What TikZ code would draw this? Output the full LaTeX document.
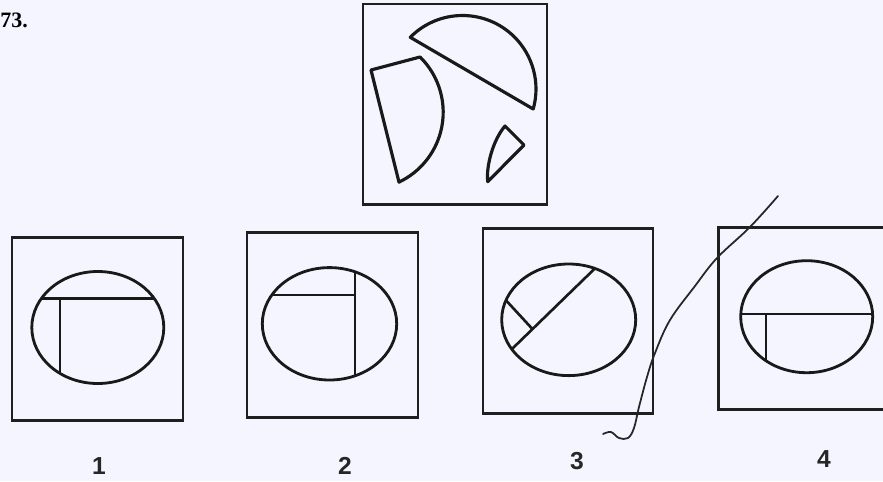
\documentclass[tikz,border=0pt]{standalone}
\usepackage{fontspec}
\setmainfont{Liberation Serif}
\newfontfamily\labfont{Liberation Sans}
\usetikzlibrary{calc}
\begin{document}
\begin{tikzpicture}[x=0.02cm,y=-0.02cm,
  frame/.style={draw=black!88,line width=1.7pt},
  piece/.style={draw=black!90,line width=1.8pt,line join=round},
  oval/.style={draw=black!90,line width=1.6pt},
  cut/.style={draw=black!90,line width=1.5pt},
  optlabel/.style={font=\labfont\bfseries\fontsize{14}{16}\selectfont,text=black!85,inner sep=0pt},
  pen/.style={draw=black!85,line width=1pt,line cap=round}]
\useasboundingbox (0,0) rectangle (883,481);
\clip (0,0) rectangle (883,481);
\fill[white!96!blue] (0,0) rectangle (883,481);

% question number
\node[font=\bfseries\fontsize{12.5}{14}\selectfont,anchor=west,inner sep=0pt] (qnum) at (0,20) {73.};

% ---- problem figure ----
\node[frame,minimum width=184*0.02cm,minimum height=200*0.02cm,inner sep=0pt] (top) at (455,104) {};
\coordinate (cbig) at (462.5,89);
\draw[piece] (cbig) ++(-135.3:73.5) arc[start angle=-135.3,end angle=15.8,radius=73.5] -- cycle;
\coordinate (pa) at (371,70);
\coordinate (cd) at (365.8,112.2);
\draw[piece] (cd) ++(-45.5:77.4) arc[start angle=-45.5,end angle=64.6,radius=77.4] -- (pa) -- cycle;
\coordinate (sa) at (505,126);
\coordinate (sb) at (524,145);
\coordinate (sc) at (487.7,181.7);
\draw[piece] (sa) -- (sb) -- (sc) .. controls (486,166) and (493,140) .. (sa) -- cycle;

% ---- option 1 ----
\node[frame,minimum width=171*0.02cm,minimum height=183*0.02cm,inner sep=0pt] (b1) at (97.5,328.5) {};
\coordinate (e1) at (97.8,327.5);
\begin{scope}
  \clip (e1) ellipse[x radius=66,y radius=56];
  \draw[cut] (0,298.3) -- (200,298.3);
  \draw[cut] (60,298.3) -- (60,400);
\end{scope}
\draw[oval] (e1) ellipse[x radius=66,y radius=56];
\node[optlabel] (l1) at (99,466) {1};

% ---- option 2 ----
\node[frame,minimum width=171*0.02cm,minimum height=185*0.02cm,inner sep=0pt] (b2) at (332.5,324.5) {};
\coordinate (e2) at (329.5,323.8);
\begin{scope}
  \clip (e2) ellipse[x radius=67.2,y radius=56.2];
  \draw[cut] (230,295) -- (355,295);
  \draw[cut] (355,240) -- (355,400);
\end{scope}
\draw[oval] (e2) ellipse[x radius=67.2,y radius=56.2];
\node[optlabel] (l2) at (345,466) {2};

% ---- option 3 ----
\node[frame,minimum width=170*0.02cm,minimum height=185*0.02cm,inner sep=0pt] (b3) at (568,320.5) {};
\coordinate (e3) at (568.7,319.8);
\begin{scope}
  \clip (e3) ellipse[x radius=67,y radius=55.8];
  \draw[cut] (492.7,367.7) -- (613.3,250.6);
  \draw[cut] (532.7,329.3) -- (490,283);
\end{scope}
\draw[oval] (e3) ellipse[x radius=67,y radius=55.8];
\node[optlabel] (l3) at (577,461) {3};

% ---- option 4 ----
\draw[frame] (718.3,227.3) rectangle (900,409.3);
\coordinate (e4) at (806.7,316.7);
\begin{scope}
  \clip (e4) ellipse[x radius=66,y radius=56];
  \draw[cut] (700,314) -- (900,314);
  \draw[cut] (766,314) -- (766,400);
\end{scope}
\draw[oval] (e4) ellipse[x radius=66,y radius=56];
\node[optlabel] (l4) at (824,459) {4};

% ---- pen stroke ----
\draw[pen] plot[smooth,tension=0.6] coordinates {(778,196) (750,227) (717,258) (695,286) (670,320) (655,353) (647,377) (639,407) (634,428) (628,438) (619,438) (611,432) (603,434)};
\end{tikzpicture}
\end{document}
